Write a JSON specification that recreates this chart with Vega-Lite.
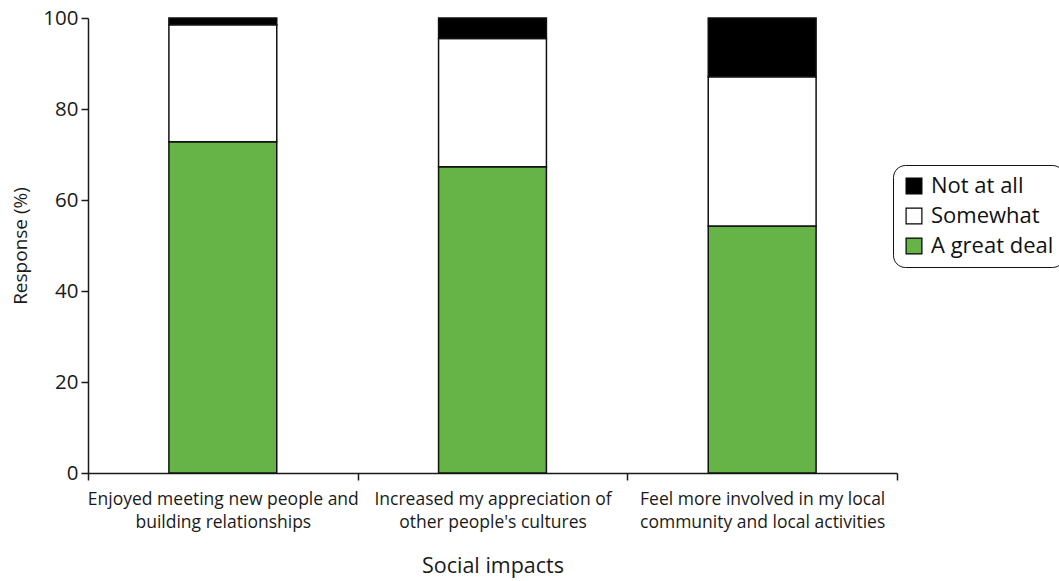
{
  "$schema": "https://vega.github.io/schema/vega-lite/v6.json",
  "autosize": "none",
  "width": 809,
  "height": 455,
  "padding": {"left": 88, "top": 18, "right": 162, "bottom": 108},
  "background": "white",
  "config": {
    "view": {"stroke": null},
    "font": "Open Sans",
    "axis": {"labelColor": "#1a1a1a", "titleColor": "#1a1a1a", "domainColor": "#1a1a1a", "tickColor": "#1a1a1a", "domainWidth": 1.5, "tickWidth": 1.5, "grid": false}
  },
  "data": {
    "values": [
      {"impact": "Enjoyed meeting new people and building relationships", "response": "A great deal", "rank": 1, "pct": 72.8},
      {"impact": "Enjoyed meeting new people and building relationships", "response": "Somewhat", "rank": 2, "pct": 25.7},
      {"impact": "Enjoyed meeting new people and building relationships", "response": "Not at all", "rank": 3, "pct": 1.5},
      {"impact": "Increased my appreciation of other people's cultures", "response": "A great deal", "rank": 1, "pct": 67.3},
      {"impact": "Increased my appreciation of other people's cultures", "response": "Somewhat", "rank": 2, "pct": 28.2},
      {"impact": "Increased my appreciation of other people's cultures", "response": "Not at all", "rank": 3, "pct": 4.5},
      {"impact": "Feel more involved in my local community and local activities", "response": "A great deal", "rank": 1, "pct": 54.3},
      {"impact": "Feel more involved in my local community and local activities", "response": "Somewhat", "rank": 2, "pct": 32.8},
      {"impact": "Feel more involved in my local community and local activities", "response": "Not at all", "rank": 3, "pct": 12.9}
    ]
  },
  "mark": {"type": "bar", "stroke": "#111111", "strokeWidth": 1.5, "width": {"band": 0.4}},
  "encoding": {
    "x": {
      "field": "impact",
      "type": "nominal",
      "sort": null,
      "scale": {"paddingInner": 0, "paddingOuter": 0},
      "axis": {
        "title": "Social impacts",
        "titleFontSize": 21.5,
        "titleFontWeight": "normal",
        "titlePadding": 25,
        "labelAngle": 0,
        "labelFontSize": 17.5,
        "labelPadding": 10,
        "labelLineHeight": 23,
        "labelBaseline": "top",
        "labelLimit": 320,
        "tickBand": "extent",
        "tickSize": 7,
        "labelExpr": "datum.value == 'Enjoyed meeting new people and building relationships' ? ['Enjoyed meeting new people and', 'building relationships'] : datum.value == 'Increased my appreciation of other people\\'s cultures' ? ['Increased my appreciation of', 'other people\\'s cultures'] : datum.value == 'Feel more involved in my local community and local activities' ? ['Feel more involved in my local', 'community and local activities'] : ''"
      }
    },
    "y": {
      "field": "pct",
      "type": "quantitative",
      "stack": "zero",
      "scale": {"domain": [0, 100], "nice": false},
      "axis": {
        "title": "Response (%)",
        "titleFontSize": 19,
        "titleFontWeight": "normal",
        "titlePadding": 12,
        "values": [0, 20, 40, 60, 80, 100],
        "labelFontSize": 20.5,
        "labelPadding": 3,
        "tickSize": 7
      }
    },
    "order": {"field": "rank", "type": "quantitative", "sort": "ascending"},
    "color": {
      "field": "response",
      "type": "nominal",
      "scale": {"domain": ["Not at all", "Somewhat", "A great deal"], "range": ["#000000", "#ffffff", "#66b347"]},
      "legend": {
        "title": null,
        "orient": "none",
        "legendX": 805,
        "legendY": 147,
        "symbolType": "square",
        "symbolSize": 250,
        "symbolStrokeColor": "#000000",
        "symbolStrokeWidth": 1.2,
        "labelFontSize": 22,
        "labelColor": "#111111",
        "labelLimit": 300,
        "rowPadding": 8,
        "padding": 10,
        "strokeColor": "#111111",
        "fillColor": "#ffffff",
        "cornerRadius": 12,
        "labelOffset": 6
      }
    }
  }
}
